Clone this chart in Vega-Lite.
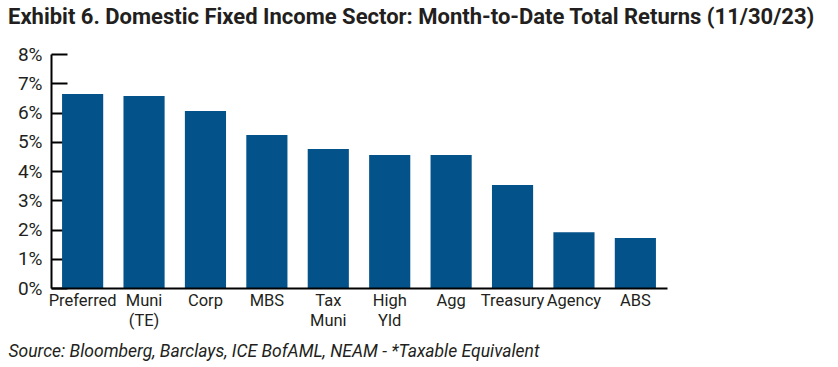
{
  "$schema": "https://vega.github.io/schema/vega-lite/v6.json",
  "width": 616,
  "height": 234,
  "autosize": "none",
  "padding": {"left": 51, "top": 54, "right": 171, "bottom": 79},
  "background": "white",
  "title": {
    "text": "Exhibit 6. Domestic Fixed Income Sector: Month-to-Date Total Returns (11/30/23)",
    "anchor": "start",
    "frame": "group",
    "dx": -43,
    "offset": 0,
    "dy": 1,
    "baseline": "alphabetic",
    "font": "Roboto",
    "fontSize": 22,
    "fontWeight": "bold",
    "color": "#231f20"
  },
  "data": {
    "values": [
      {"sector": "Preferred", "ret": 6.63},
      {"sector": "Muni|(TE)", "ret": 6.56},
      {"sector": "Corp", "ret": 6.05},
      {"sector": "MBS", "ret": 5.23},
      {"sector": "Tax|Muni", "ret": 4.75},
      {"sector": "High|Yld", "ret": 4.55},
      {"sector": "Agg", "ret": 4.55},
      {"sector": "Treasury", "ret": 3.52},
      {"sector": "Agency", "ret": 1.91},
      {"sector": "ABS", "ret": 1.71}
    ]
  },
  "mark": {"type": "bar", "color": "#04528a"},
  "encoding": {
    "x": {
      "field": "sector",
      "type": "nominal",
      "sort": null,
      "scale": {"paddingInner": 0.33, "paddingOuter": 0.18},
      "axis": {
        "zindex": 1,
        "title": "Source: Bloomberg, Barclays, ICE BofAML, NEAM - *Taxable Equivalent",
        "titleFont": "Roboto",
        "titleFontSize": 17.5,
        "titleFontStyle": "italic",
        "titleFontWeight": "normal",
        "titleColor": "#231f20",
        "titleAnchor": "start",
        "titleAlign": "left",
        "titleBaseline": "alphabetic",
        "titleX": -43,
        "titleY": 68,
        "domainColor": "#000000",
        "domainWidth": 2,
        "ticks": false,
        "labelAngle": 0,
        "labelPadding": 4,
        "labelFont": "Roboto",
        "labelFontSize": 16.5,
        "labelColor": "#231f20",
        "labelLineHeight": 20,
        "labelExpr": "split(datum.label, '|')"
      }
    },
    "y": {
      "field": "ret",
      "type": "quantitative",
      "scale": {"domain": [0, 8], "nice": false},
      "axis": {
        "zindex": 0,
        "title": null,
        "grid": false,
        "values": [0, 1, 2, 3, 4, 5, 6, 7, 8],
        "labelExpr": "datum.value + '%'",
        "domainColor": "#000000",
        "domainWidth": 2,
        "tickColor": "#000000",
        "tickWidth": 2,
        "tickSize": -16,
        "labelPadding": 25,
        "labelFont": "Roboto",
        "labelFontSize": 19,
        "labelColor": "#231f20"
      }
    }
  },
  "config": {"view": {"stroke": null}}
}
